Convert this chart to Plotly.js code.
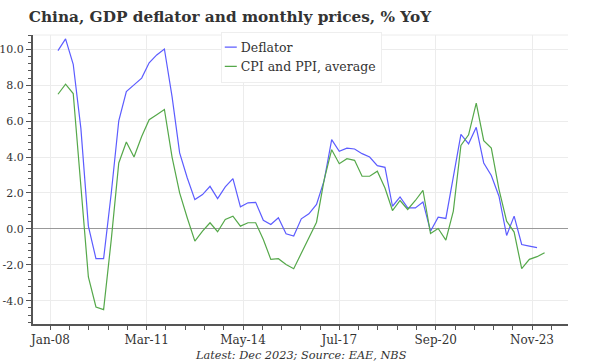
<!DOCTYPE html>
<html><head><meta charset="utf-8">
<script src="https://cdn.plot.ly/plotly-3.0.1.min.js"></script>
<style>html,body{margin:0;padding:0;background:#fff}#chart{width:600px;height:364px}</style>
</head><body><div id="chart"></div>
<script>
// Quarterly data, first quarter = 2008 Q1 (plotted at quarter end)
const firstYear = 2008;
const deflator = [
  9.93, 10.58, 9.17, 5.6, 0.15, -1.66, -1.66, 2.0,
  6.02, 7.65, 8.02, 8.4, 9.25, 9.69, 10.02, 7.37,
  4.23, 2.85, 1.63, 1.91, 2.37, 1.69, 2.34, 2.8,
  1.23, 1.45, 1.48, 0.48, 0.24, 0.62, -0.27, -0.4,
  0.56, 0.84, 1.36, 2.7, 4.97, 4.32, 4.5, 4.45,
  4.19, 4.0, 3.52, 3.43, 1.26, 1.78, 1.17, 1.17,
  1.5, -0.13, 0.65, 0.58, 2.9, 5.26, 4.74, 5.66,
  3.67, 2.97, 1.82, -0.37, 0.71, -0.87, -0.96, -1.05
];
const cpiPpiAvg = [
  7.5, 8.06, 7.54, 2.6, -2.68, -4.35, -4.5, -0.6,
  3.67, 4.84, 4.0, 5.15, 6.08, 6.36, 6.65, 4.0,
  2.0, 0.62, -0.68, -0.13, 0.34, -0.16, 0.52, 0.71,
  0.15, 0.34, 0.34, -0.59, -1.7, -1.66, -1.98, -2.22,
  -1.33, -0.49, 0.37, 2.74, 4.41, 3.63, 3.91, 3.82,
  2.93, 2.93, 3.21, 2.28, 1.02, 1.58, 1.08, 1.58,
  2.15, -0.26, 0.02, -0.63, 0.99, 4.65, 5.24, 7.0,
  4.91, 4.5, 2.2, 0.43, -0.18, -2.22, -1.7, -1.55, -1.33
];
const seriesNames = ['Deflator', 'CPI and PPI, average'];
const yTickValues = [-4, -2, 0, 2, 4, 6, 8, 10];
const titleText = 'China, GDP deflator and monthly prices, % YoY';
const captionText = 'Latest: Dec 2023; Source: EAE, NBS';

function quarterEnds(n) {
  const ends = ['03-31', '06-30', '09-30', '12-31'];
  const out = [];
  for (let i = 0; i < n; i++) {
    out.push((firstYear + Math.floor(i / 4)) + '-' + ends[i % 4]);
  }
  return out;
}

// minor x ticks: 5 intervals between each 38-month major tick
function minorTicks() {
  const vals = [];
  for (let k = -1; k < 7; k++) {
    const a = Date.UTC(2008, 38 * k, 1), b = Date.UTC(2008, 38 * (k + 1), 1);
    for (let j = 1; j < 5; j++) vals.push(new Date(a + (b - a) * j / 5).toISOString().slice(0, 10));
  }
  return vals;
}

const serif = 'DejaVu Serif, Liberation Serif, serif';
const axisColor = '#555555';
const gridColor = '#ececec';
const textColor = '#333333';

const traces = [
  { x: quarterEnds(deflator.length), y: deflator, name: seriesNames[0], type: 'scatter', mode: 'lines',
    line: { color: '#5c5cff', width: 1.2 } },
  { x: quarterEnds(cpiPpiAvg.length), y: cpiPpiAvg, name: seriesNames[1], type: 'scatter', mode: 'lines',
    line: { color: '#55a84a', width: 1.2 } }
];

const yRange = [-5.3, 10.8];
const yCommon = {
  range: yRange, tickmode: 'array', tickvals: yTickValues,
  ticktext: yTickValues.map(v => v.toFixed(1)),
  ticks: 'outside', ticklen: 5, tickwidth: 1, tickcolor: axisColor,
  showline: true, linecolor: axisColor, linewidth: 2,
  tickfont: { family: serif, size: 11, color: textColor },
  minor: { dtick: 0.4, tick0: 0, ticks: 'outside', ticklen: 3, tickcolor: axisColor, showgrid: false }
};

const layout = {
  width: 600, height: 364,
  margin: { l: 33, r: 32, t: 35, b: 40 },
  paper_bgcolor: '#fff', plot_bgcolor: '#fff',
  title: { text: '<b>' + titleText + '</b>', x: 0.048, xanchor: 'left', y: 0.955, yanchor: 'middle',
    font: { family: serif, size: 15.3, color: textColor } },
  showlegend: true,
  legend: { x: 0.351, y: 1.012, xanchor: 'left', yanchor: 'top', bgcolor: '#fff',
    bordercolor: '#eeeeee', borderwidth: 1, font: { family: serif, size: 12.5, color: textColor },
    tracegroupgap: 0 },
  xaxis: {
    type: 'date', range: ['2007-06-05', '2025-01-06'],
    tick0: '2008-01-01', dtick: 'M38', tickformat: '%b-%y',
    ticks: 'outside', ticklen: 4, tickcolor: axisColor,
    showline: true, linecolor: axisColor, linewidth: 2,
    showgrid: true, gridcolor: gridColor, gridwidth: 1,
    tickfont: { family: serif, size: 12, color: textColor },
    minor: { tickmode: 'array', tickvals: minorTicks(), ticks: 'outside', ticklen: 4, tickcolor: axisColor, showgrid: false }
  },
  yaxis: Object.assign({}, yCommon, {
    showgrid: true, gridcolor: gridColor, gridwidth: 1,
    zeroline: true, zerolinecolor: '#999999', zerolinewidth: 1
  }),
  yaxis2: Object.assign({}, yCommon, {
    overlaying: 'y', side: 'right', showgrid: false, zeroline: false
  }),
  shapes: [
    { type: 'line', xref: 'paper', yref: 'paper', x0: 0, x1: 1, y0: 1, y1: 1, line: { color: gridColor, width: 1 } }
  ],
  annotations: [
    { text: '<i>' + captionText + '</i>', xref: 'paper', yref: 'paper', x: 0.5, y: -0.11,
      xanchor: 'center', yanchor: 'middle', showarrow: false, font: { family: serif, size: 11.3, color: textColor } }
  ]
};

Plotly.newPlot('chart', traces, layout, { displayModeBar: false, staticPlot: true }).then(gd => {
  // shorter legend line samples, as in the reference
  const shift = 21;
  gd.querySelectorAll('.legend .traces').forEach(tr => {
    tr.querySelectorAll('.legendlines path').forEach(p => p.setAttribute('d', 'M3,0h12'));
    const t = tr.querySelector('text.legendtext');
    if (t) t.setAttribute('x', (+t.getAttribute('x')) - shift);
  });
  const bg = gd.querySelector('.legend rect.bg');
  if (bg) bg.setAttribute('width', (+bg.getAttribute('width')) - shift);
});
</script>
</body></html>
